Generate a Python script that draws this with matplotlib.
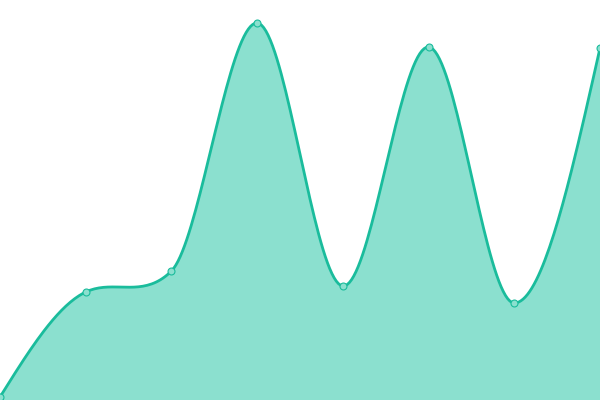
import matplotlib
matplotlib.use("Agg")
import matplotlib.pyplot as plt
import numpy as np

# Data (x index, value in a 0..400 scale)
x_vals = [0, 1, 2, 3, 4, 5, 6, 7]
y_vals = [3, 108, 129, 377, 114, 353, 97, 352]

line_color = "#1abc9c"
fill_color = "#8be0cf"


# cardinal spline, only used to draw the curve between the points
def smooth(xs, ys, k=0.32, steps=40):
    xs = np.asarray(xs, float)
    ys = np.asarray(ys, float)
    n = len(xs)
    s = np.diff(ys) / np.diff(xs)
    m = np.zeros(n)
    for i in range(1, n - 1):
        m[i] = 2 * k * (ys[i + 1] - ys[i - 1]) / (xs[i + 1] - xs[i - 1])
    # end tangents from the neighbouring secant
    m[0] = (3 * s[0] - m[1]) / 2
    m[-1] = (3 * s[-1] - m[-2]) / 2
    out_x, out_y = [], []
    for i in range(n - 1):
        h = xs[i + 1] - xs[i]
        t = np.linspace(0, 1, steps)
        h00 = 2 * t ** 3 - 3 * t ** 2 + 1
        h10 = t ** 3 - 2 * t ** 2 + t
        h01 = -2 * t ** 3 + 3 * t ** 2
        h11 = t ** 3 - t ** 2
        yy = h00 * ys[i] + h10 * h * m[i] + h01 * ys[i + 1] + h11 * h * m[i + 1]
        out_x.extend(xs[i] + t[:-1] * h)
        out_y.extend(yy[:-1])
    out_x.append(xs[-1])
    out_y.append(ys[-1])
    return np.array(out_x), np.array(out_y)


sx, sy = smooth(x_vals, y_vals)

fig = plt.figure(figsize=(6, 4), dpi=100)
ax = fig.add_axes([0, 0, 1, 1])
ax.fill_between(sx, 0, sy, color=fill_color, linewidth=0)
ax.plot(sx, sy, color=line_color, linewidth=2.0, solid_capstyle="round")
ax.plot(x_vals, y_vals, "o", markersize=5, markerfacecolor=fill_color,
        markeredgecolor=line_color, markeredgewidth=0.8, clip_on=True)
ax.set_xlim(0, 7)
ax.set_ylim(0, 400)
ax.axis("off")

fig.savefig("out.png", dpi=100)
